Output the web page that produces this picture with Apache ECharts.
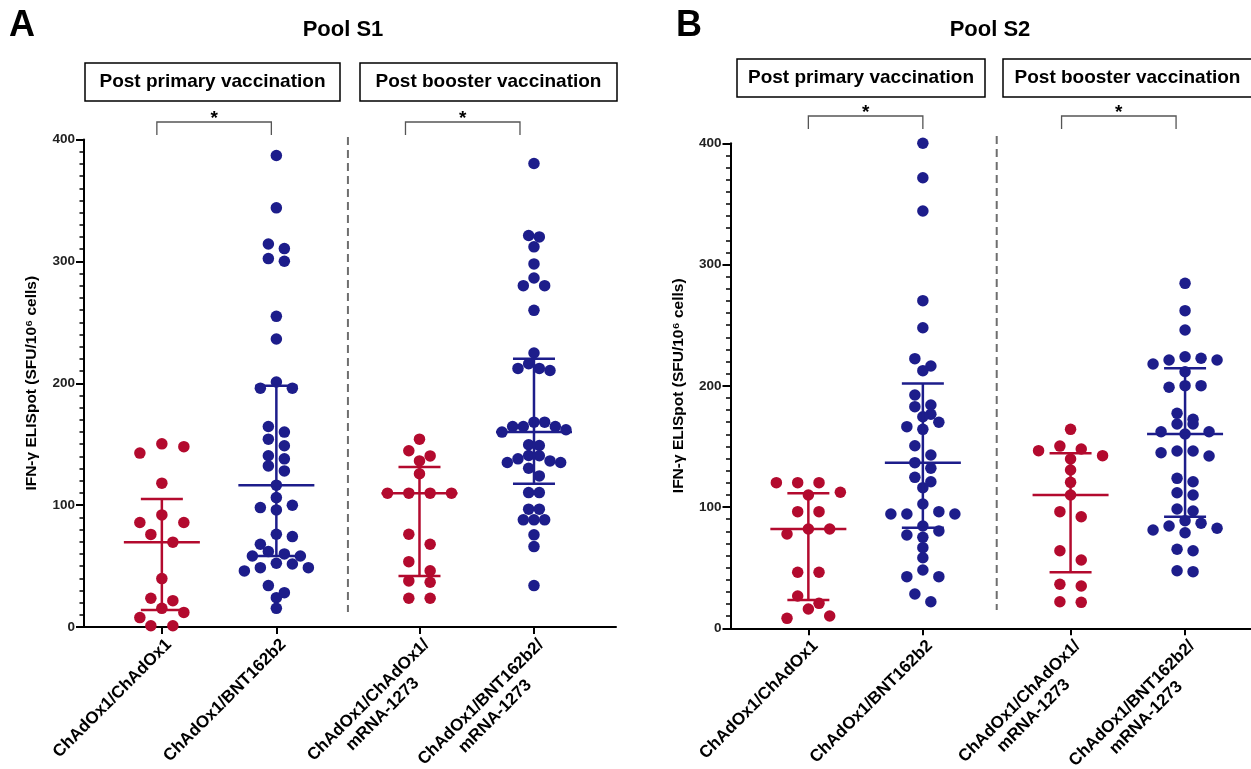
<!DOCTYPE html>
<html><head><meta charset="utf-8">
<script src="https://cdn.jsdelivr.net/npm/echarts@6/dist/echarts.min.js"></script>
<style>html,body{margin:0;padding:0;background:#fff}#c{width:1251px;height:769px}</style>
</head><body><div id="c"></div>
<script>
// ---------------- DATA ----------------
const categories = ['ChAdOx1/ChAdOx1', 'ChAdOx1/BNT162b2', 'ChAdOx1/ChAdOx1/\nmRNA-1273', 'ChAdOx1/BNT162b2/\nmRNA-1273'];
const panelTitles = ['Pool S1', 'Pool S2'];
const panelLetters = ['A', 'B'];
const groupHeaders = ['Post primary vaccination', 'Post booster vaccination'];
const yTicks = [0, 100, 200, 300, 400];
const yAxisTitle = 'IFN-γ ELISpot (SFU/10⁶ cells)';
const sigMarks = ['*', '*'];

// Pool S1 (panel A)
const s1_AZ_AZ = [150.3, 148, 142.7, 118, 92, 85.7, 85.7, 76, 69.6, 39.7, 23.6, 21.6, 15.3, 12, 7.7, 1, 1];
const s1_AZ_BNT = [386.9, 343.9, 314.3, 310.5, 302.3, 300.1, 254.9, 236.3, 201, 196, 196, 164.5, 159.9, 154.1, 148.7, 140.5, 138, 132.2, 128.1, 116.4, 106.2, 99.9, 98, 96.1, 76.1, 74.2, 67.9, 61.9, 60, 58.3, 58.3, 52.3, 51.7, 48.7, 48.7, 46, 34, 28.2, 24.1, 15.3];
const s1_AZ_AZ_mRNA = [154.1, 144.6, 140.4, 136.3, 125.7, 109.8, 109.8, 109.8, 109.8, 76.1, 67.9, 53.6, 46.2, 37.8, 36.7, 23.6, 23.6];
const s1_AZ_BNT_mRNA = [380.3, 321.2, 320.1, 311.9, 297.9, 286.4, 280.1, 280.1, 259.8, 224.8, 216, 212.2, 212.2, 210.5, 168.1, 168.1, 164.5, 164.5, 164.5, 161.8, 159.9, 149.5, 148.9, 140.7, 140.5, 138, 136.3, 135, 135, 130.3, 124, 110.3, 110.3, 96.7, 96.7, 87.9, 87.9, 87.9, 75.6, 66, 34];
// [centre line, lower bar, upper bar]
const s1_summary = [[69.6, 14, 105], [116.4, 58.3, 198], [109.8, 41.9, 131.2], [159.9, 117.5, 220.1]];

// Pool S2 (panel B)
const s2_AZ_AZ = [120.1, 120.1, 120.1, 112.2, 109.9, 96.2, 96.2, 81.9, 81.9, 77.8, 46.2, 46.2, 26.6, 20.6, 15.9, 10.1, 8.2];
const s2_AZ_BNT = [400, 371.6, 344.2, 270.2, 247.9, 222.4, 216.3, 212.5, 192.4, 184.2, 182.8, 176.5, 174.5, 169.9, 166.3, 164.1, 150.6, 142.9, 136.6, 132, 124.5, 120.9, 116, 102.5, 96.2, 94.3, 94.3, 94.3, 84.4, 80.2, 76.9, 75, 66.5, 58.2, 48.1, 42.6, 42.6, 28.3, 21.9];
const s2_AZ_AZ_mRNA = [164.1, 150.3, 147.9, 146.5, 142.4, 139.6, 130.6, 120.4, 109.9, 96.2, 92, 64, 56.3, 36.3, 34.9, 21.9, 21.4];
const s2_AZ_BNT_mRNA = [284.5, 262, 246, 224, 222.7, 221.3, 221.3, 218, 211.6, 200.1, 200.1, 198.8, 177.3, 172.4, 168.5, 168.5, 162.1, 162.1, 160.2, 146.2, 146.2, 144.8, 142.1, 123.7, 120.9, 111.8, 109.9, 98.4, 96.7, 88.7, 86.6, 84.4, 82.5, 81.1, 78.8, 65.2, 64, 47.5, 46.7];
const s2_summary = [[81.9, 23.3, 111.3], [136.6, 83, 202], [109.9, 46.2, 144.3], [160.2, 92, 214.4]];

// ---------------- LAYOUT / STYLE ----------------
const FONT = 'Liberation Sans, Arial, Helvetica, sans-serif';
const RED = '#B30A2E', BLUE = '#1D1D8B';
const groupColors = [RED, BLUE, RED, BLUE];
const panels = [
  { groups: [s1_AZ_AZ, s1_AZ_BNT, s1_AZ_AZ_mRNA, s1_AZ_BNT_mRNA], summary: s1_summary,
    grid: { left: 84, top: 139.5, width: 532, height: 487.5 }, xmin: -0.68, pos: [0, 1, 2.25, 3.25],
    titleX: 343, letterX: 9, boxTop: 63, boxes: [[85, 340], [360, 617]], bracketY: 122, bracketShift: [-5, -14], sepTop: 137, sepBottom: 612 },
  { groups: [s2_AZ_AZ, s2_AZ_BNT, s2_AZ_AZ_mRNA, s2_AZ_BNT_mRNA], summary: s2_summary,
    grid: { left: 730.5, top: 143.3, width: 521, height: 485 }, xmin: -0.68, pos: [0, 1, 2.29, 3.29],
    titleX: 990, letterX: 676, boxTop: 59, boxes: [[737, 985], [1003, 1252]], bracketY: 116, bracketShift: [0, -9], sepTop: 136, sepBottom: 610 }
];
const SYM = 11.5;

function swarmOffsets(values, pxY, pxX) {
  const order = values.map((v, i) => i).sort((a, b) => values[b] - values[a]);
  const rows = []; let cur = null;
  order.forEach(i => {
    const py = values[i] * pxY;
    if (!cur || cur.start - py > 10) { cur = { start: py, items: [] }; rows.push(cur); }
    cur.items.push(i);
  });
  const maxN = Math.max(...rows.map(r => r.items.length));
  const step = Math.min(22, maxN > 1 ? 64 / (maxN - 1) : 22);
  const off = new Array(values.length).fill(0);
  rows.forEach(r => {
    const n = r.items.length;
    const slots = [];
    for (let k = 0; k < n; k++) slots.push(k - (n - 1) / 2);
    if (n % 2 === 1) slots.sort((a, b) => Math.abs(a) - Math.abs(b) || b - a);
    else slots.sort((a, b) => Math.abs(a) - Math.abs(b) || a - b);
    r.items.forEach((i, k) => { off[i] = slots[k] * step / pxX; });
  });
  return off;
}

const grids = [], xAxes = [], yAxes = [], series = [];
panels.forEach((p, pi) => {
  const xmax = p.xmin + p.grid.width / 114.5;
  grids.push(Object.assign({ containLabel: false, outerBoundsMode: 'none' }, p.grid));
  const pxY = p.grid.height / 400, pxX = p.grid.width / (xmax - p.xmin);
  xAxes.push({
    type: 'value', gridIndex: pi, min: p.xmin, max: xmax,
    axisLine: { show: true, onZero: false, lineStyle: { color: '#000', width: 2 } },
    axisTick: { show: true, customValues: p.pos, length: 7, lineStyle: { color: '#000', width: 2 } },
    axisLabel: {
      show: true, customValues: p.pos, rotate: 45, margin: 8, verticalAlign: 'top',
      formatter: v => {
        const k = p.pos.findIndex(q => Math.abs(q - v) < 1e-6);
        if (k < 0) return '';
        return categories[k].split('\n').map(s => '{c|' + s + '}').join('\n');
      },
      rich: { c: { align: 'center', fontSize: 17, fontWeight: 'bold', fontFamily: FONT, color: '#000', lineHeight: 20 } }
    },
    splitLine: { show: false }
  });
  yAxes.push({
    type: 'value', gridIndex: pi, min: yTicks[0], max: yTicks[yTicks.length - 1], interval: 100,
    name: yAxisTitle, nameLocation: 'middle', nameGap: 44,
    nameTextStyle: { fontSize: 15.5, fontWeight: 'bold', fontFamily: FONT, color: '#000' },
    axisLine: { show: true, onZero: false, lineStyle: { color: '#000', width: 2 } },
    axisTick: { show: true, length: 8, lineStyle: { color: '#000', width: 2 } },
    minorTick: { show: true, splitNumber: 10, length: 4.5, lineStyle: { color: '#000', width: 1.5 } },
    axisLabel: { fontSize: 13.5, fontWeight: 'bold', fontFamily: FONT, color: '#222', margin: 9 },
    splitLine: { show: false }
  });
  p.groups.forEach((vals, gi) => {
    const off = swarmOffsets(vals, pxY, pxX);
    series.push({
      type: 'scatter', xAxisIndex: pi, yAxisIndex: pi, symbol: 'circle', symbolSize: SYM,
      itemStyle: { color: groupColors[gi], opacity: 1 }, z: 2, silent: true,
      data: vals.map((v, i) => [p.pos[gi] + off[i], v])
    });
  });
  series.push({
    type: 'custom', xAxisIndex: pi, yAxisIndex: pi, z: 5, silent: true,
    data: p.summary.map((s, gi) => [p.pos[gi], s[0], s[1], s[2], gi]),
    renderItem: (params, api) => {
      const x = api.value(0);
      const c = api.coord([x, api.value(1)]), lo = api.coord([x, api.value(2)]), hi = api.coord([x, api.value(3)]);
      const col = groupColors[api.value(4)];
      const st = { stroke: col, lineWidth: 2.5 };
      return { type: 'group', children: [
        { type: 'line', shape: { x1: c[0], y1: lo[1], x2: c[0], y2: hi[1] }, style: st },
        { type: 'line', shape: { x1: c[0] - 38, y1: c[1], x2: c[0] + 38, y2: c[1] }, style: st },
        { type: 'line', shape: { x1: c[0] - 21, y1: lo[1], x2: c[0] + 21, y2: lo[1] }, style: st },
        { type: 'line', shape: { x1: c[0] - 21, y1: hi[1], x2: c[0] + 21, y2: hi[1] }, style: st }
      ] };
    }
  });
});

const chart = echarts.init(document.getElementById('c'), null, { renderer: 'canvas' });
chart.setOption({
  animation: false, backgroundColor: '#fff',
  grid: grids, xAxis: xAxes, yAxis: yAxes, series: series
});

// annotations derived from axis scales
const graphics = [];
panels.forEach((p, pi) => {
  const catPx = p.pos.map(x => chart.convertToPixel({ xAxisIndex: pi, yAxisIndex: pi }, [x, 0])[0]);
  graphics.push({ type: 'text', left: p.letterX, top: 8, style: { text: panelLetters[pi], font: 'bold 36px ' + FONT, fill: '#000' } });
  graphics.push({ type: 'text', x: p.titleX, y: 30, style: { text: panelTitles[pi], font: 'bold 22px ' + FONT, fill: '#000', textAlign: 'center', textVerticalAlign: 'middle' } });
  p.boxes.forEach((b, bi) => {
    graphics.push({ type: 'rect', shape: { x: b[0], y: p.boxTop, width: b[1] - b[0], height: 38 }, style: { fill: '#fff', stroke: '#000', lineWidth: 1.5 } });
    graphics.push({ type: 'text', x: (b[0] + b[1]) / 2, y: p.boxTop + 19, style: { text: groupHeaders[bi], font: 'bold 19px ' + FONT, fill: '#000', textAlign: 'center', textVerticalAlign: 'middle' } });
  });
  const sepX = (catPx[1] + catPx[2]) / 2;
  graphics.push({ type: 'line', shape: { x1: sepX, y1: p.sepTop, x2: sepX, y2: p.sepBottom }, style: { stroke: '#6e6e6e', lineWidth: 2, lineDash: [8, 5] } });
  [[0, 1], [2, 3]].forEach((pair, k) => {
    const x1 = catPx[pair[0]] + p.bracketShift[k], x2 = catPx[pair[1]] + p.bracketShift[k];
    const y = p.bracketY;
    graphics.push({ type: 'polyline', shape: { points: [[x1, y + 13], [x1, y], [x2, y], [x2, y + 13]] }, style: { stroke: '#555', lineWidth: 1.3, fill: null } });
    graphics.push({ type: 'text', x: (x1 + x2) / 2, y: y - 3, style: { text: sigMarks[k], font: 'bold 19px ' + FONT, fill: '#000', textAlign: 'center', textVerticalAlign: 'middle' } });
  });
});
chart.setOption({ graphic: graphics });
</script>
</body></html>
